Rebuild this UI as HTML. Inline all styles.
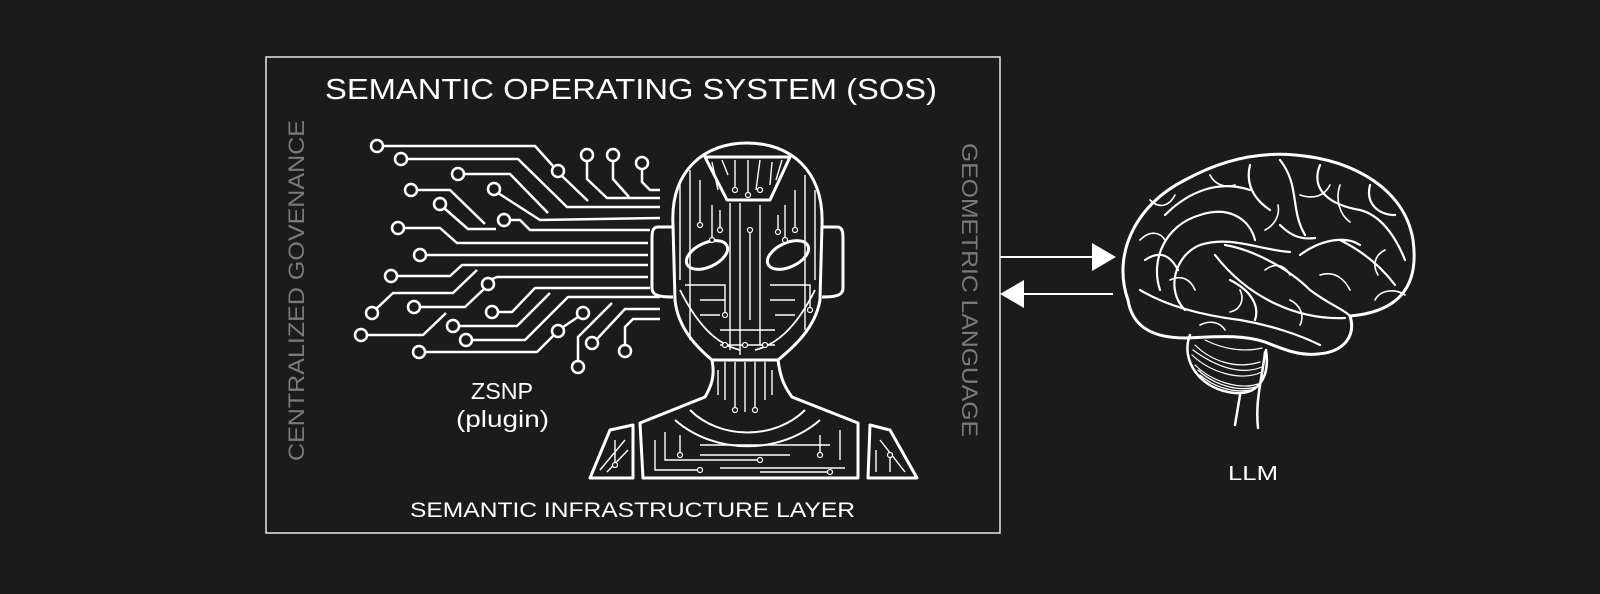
<!DOCTYPE html>
<html><head><meta charset="utf-8">
<style>
html,body{margin:0;padding:0;background:#1b1b1b;}
svg{display:block}
text{font-family:"Liberation Sans",sans-serif;}
</style></head>
<body>
<svg width="1600" height="594" viewBox="0 0 1600 594" xmlns="http://www.w3.org/2000/svg">
<rect width="1600" height="594" fill="#1b1b1b"/>
<rect x="266" y="57" width="734" height="476" fill="none" stroke="#e8e8e8" stroke-width="1.5"/>
<text x="325" y="99" font-size="29" fill="#fff" textLength="612" lengthAdjust="spacingAndGlyphs">SEMANTIC OPERATING SYSTEM  (SOS)</text>
<text x="410" y="517" font-size="21" fill="#fff" textLength="445" lengthAdjust="spacingAndGlyphs">SEMANTIC INFRASTRUCTURE LAYER</text>
<text x="471" y="399" font-size="23" fill="#fff" textLength="62" lengthAdjust="spacingAndGlyphs">ZSNP</text>
<text x="456" y="427" font-size="23" fill="#fff" textLength="93" lengthAdjust="spacingAndGlyphs">(plugin)</text>
<text transform="translate(304,461) rotate(-90)" font-size="22" fill="#7a7a7a" textLength="341" lengthAdjust="spacingAndGlyphs">CENTRALIZED GOVENANCE</text>
<text transform="translate(962,143) rotate(90)" font-size="22" fill="#7a7a7a" textLength="294" lengthAdjust="spacingAndGlyphs">GEOMETRIC LANGUAGE</text>
<text x="1228" y="480" font-size="20" fill="#fff" textLength="50" lengthAdjust="spacingAndGlyphs">LLM</text>

<line x1="1000" y1="257" x2="1094" y2="257" stroke="#fff" stroke-width="2"/>
<polygon points="1092,243 1116,257 1092,271" fill="#fff"/>
<line x1="1113" y1="294" x2="1020" y2="294" stroke="#fff" stroke-width="2"/>
<polygon points="1024,280 1000,294 1024,308" fill="#fff"/>

<g fill="none" stroke="#fff" stroke-width="2.5" stroke-linejoin="round">
<polyline points="383,146 535,146 553,166"/><polyline points="562,176 588,201"/>
<polyline points="407,159 518,159 567,207 660,207"/>
<polyline points="464,174 510,174 548,213"/>
<polyline points="417,190 450,190 485,224"/>
<polyline points="444,208 468,229 496,229"/>
<polyline points="498,193 540,220 660,218"/>
<polyline points="510,220 520,220 530,230 650,230"/>
<polyline points="404,228 440,228 457,243 648,243"/>
<polyline points="426,255 648,255"/>
<polyline points="397,276 450,276 462,265 648,265"/>
<polyline points="376,309 393,293 453,293 477,270"/>
<polyline points="492,279 497,277 648,277"/>
<polyline points="420,307 465,307 484,289"/>
<polyline points="498,312 512,312 535,288 650,288"/>
<polyline points="367,335 423,335 446,313"/>
<polyline points="459,326 517,326 550,293"/>
<polyline points="472,340 525,340 568,297 660,297"/>
<polyline points="425,352 537,352 554,335"/><polyline points="563,327 578,317"/>
<polyline points="578,361 578,337 612,303"/>
<polyline points="597,339 625,309 660,309"/>
<polyline points="625,345 625,327 633,319 660,319"/>
<polyline points="587,161 587,179 607,198 660,198"/>
<polyline points="613,161 613,179 629,197"/>
<polyline points="642,169 642,182 650,190 660,190"/>
<g fill="#1b1b1b">
<circle cx="377" cy="146" r="6"/><circle cx="401" cy="159" r="6"/><circle cx="558" cy="171" r="6"/>
<circle cx="458" cy="174" r="6"/><circle cx="411" cy="190" r="6"/><circle cx="440" cy="204" r="6"/>
<circle cx="494" cy="189" r="6"/><circle cx="504" cy="220" r="6"/><circle cx="398" cy="228" r="6"/>
<circle cx="420" cy="255" r="6"/><circle cx="391" cy="276" r="6"/><circle cx="372" cy="313" r="6"/>
<circle cx="488" cy="284" r="6"/><circle cx="414" cy="307" r="6"/><circle cx="492" cy="312" r="6"/>
<circle cx="361" cy="335" r="6"/><circle cx="453" cy="326" r="6"/><circle cx="466" cy="340" r="6"/>
<circle cx="419" cy="352" r="6"/><circle cx="558" cy="331" r="6"/><circle cx="583" cy="313" r="6"/>
<circle cx="578" cy="367" r="6"/><circle cx="592" cy="343" r="6"/><circle cx="625" cy="351" r="6"/>
<circle cx="587" cy="155" r="6"/><circle cx="613" cy="155" r="6"/><circle cx="642" cy="163" r="6"/>
</g>
</g>

<!-- robot -->
<g fill="none" stroke="#fff" stroke-width="3" stroke-linejoin="round">
<path d="M673,225 C670,170 705,143 747,143 C790,143 824,170 822,225 L820,300 C815,330 790,350 778,360 L712,360 C700,350 678,330 675,300 Z"/>
<path d="M673,227 L658,227 C652,227 652,233 652,240 L652,288 C652,295 658,297 673,297"/>
<path d="M822,227 L837,227 C843,227 843,233 843,240 L843,288 C843,295 837,297 822,297"/>
<polygon points="705,157 790,157 770,200 727,200"/>
<ellipse cx="707" cy="255" rx="22" ry="12" transform="rotate(-25 707 255)"/>
<ellipse cx="788" cy="255" rx="22" ry="12" transform="rotate(-25 788 255)"/>
<path d="M712,360 C715,375 712,385 705,397 L640,423 L643,478 L858,478 L858,423 L792,397 C783,385 780,375 778,360"/>
<polygon points="590,478 610,430 633,425 633,478"/>
<polygon points="870,425 890,430 917,478 868,478"/>
<path d="M690,410 C720,440 775,440 805,410" stroke-width="2"/>
<path d="M675,420 C715,455 780,455 820,420" stroke-width="2"/>
<path d="M680,290 C700,330 720,345 740,350 M815,290 C795,330 775,345 755,350" stroke-width="1.8"/>
</g>
<g fill="none" stroke="#fff" stroke-width="1.4">
<path d="M740,355 L740,203 M730,203 L730,350 M760,205 L760,345 M720,330 L775,330 M750,230 L750,320"/>
<path d="M690,170 L690,340 M700,180 L700,225 M685,285 L725,285 L725,315 M805,175 L805,330 M795,190 L795,230 M770,285 L810,285 L810,310"/>
<path d="M712,162 L718,190 M722,160 L728,175 M735,160 L735,190 M748,160 L748,195 M760,160 L756,190 M772,162 L770,185 M782,160 L776,180"/>
<path d="M680,185 L680,280 M815,190 L815,280 M712,205 L712,240 M785,205 L785,240 M720,210 L720,230 M778,215 L778,232"/>
<path d="M700,300 L725,300 M770,300 L795,300 M700,315 L720,315 M775,315 L795,315 M720,345 L775,345"/>
<path d="M725,362 L725,400 M735,362 L735,410 M745,362 L745,412 M755,362 L755,410 M765,362 L765,400 M718,370 L718,395 M772,370 L772,395"/>
<path d="M655,440 L655,470 L700,470 M665,432 L665,460 L760,460 M700,445 L830,445 M720,468 L845,468 M840,430 L840,460 M680,435 L680,455 M820,435 L820,455 M700,455 L790,455 M760,472 L830,472"/>
<path d="M600,470 L625,440 M607,472 L628,450 M615,440 L615,465 M880,440 L905,472 M876,450 L876,472 M890,455 L890,472"/>
</g>
<g fill="#1b1b1b" stroke="#fff" stroke-width="1.2">
<circle cx="700" cy="225" r="2.5"/><circle cx="712" cy="240" r="2.5"/><circle cx="720" cy="230" r="2.5"/>
<circle cx="785" cy="240" r="2.5"/><circle cx="795" cy="230" r="2.5"/><circle cx="778" cy="232" r="2.5"/>
<circle cx="725" cy="315" r="2.5"/><circle cx="810" cy="310" r="2.5"/><circle cx="750" cy="230" r="2.5"/>
<circle cx="735" cy="190" r="2.5"/><circle cx="748" cy="195" r="2.5"/><circle cx="760" cy="190" r="2.5"/>
<circle cx="725" cy="345" r="2.5"/><circle cx="745" cy="345" r="2.5"/><circle cx="765" cy="345" r="2.5"/>
<circle cx="735" cy="410" r="2.5"/><circle cx="755" cy="410" r="2.5"/><circle cx="700" cy="470" r="2.5"/>
<circle cx="680" cy="455" r="2.5"/><circle cx="820" cy="455" r="2.5"/><circle cx="760" cy="460" r="2.5"/>
<circle cx="615" cy="465" r="2.5"/><circle cx="890" cy="455" r="2.5"/><circle cx="830" cy="472" r="2.5"/>
</g>

<!-- brain -->
<g fill="none" stroke="#fff" stroke-linejoin="round" stroke-linecap="round">
<path stroke-width="3" d="M1128,300 C1112,255 1135,205 1185,180 C1225,158 1262,152 1295,155 C1355,160 1405,190 1413,240 C1420,290 1395,312 1350,316 C1356,335 1345,352 1318,354 C1300,356 1285,350 1265,342 C1240,334 1215,337 1185,338 C1150,338 1132,325 1128,300 Z"/>
<path stroke-width="2.5" d="M1190,335 C1180,360 1200,390 1235,393 C1260,395 1270,375 1266,350"/>
<path stroke-width="2.5" d="M1240,395 L1235,425 M1265,352 C1262,380 1255,400 1258,428"/>
<path stroke-width="1.2" d="M1195,345 C1210,360 1235,370 1260,362 M1192,355 C1210,372 1240,382 1262,372 M1195,365 C1212,382 1240,390 1258,384 M1200,375 C1215,388 1235,393 1250,390 M1205,340 C1225,350 1245,352 1262,348 M1193,350 C1215,366 1240,376 1262,367 M1198,370 C1214,385 1238,392 1255,387"/>
<g stroke-width="2.2">
<path d="M1160,290 C1150,260 1165,225 1200,215 C1230,205 1250,220 1255,240"/>
<path d="M1185,310 C1165,290 1175,255 1200,245 C1230,235 1260,250 1290,252"/>
<path d="M1215,255 C1250,300 1300,320 1345,318"/>
<path d="M1225,245 C1255,250 1290,270 1310,290 C1330,305 1345,310 1350,316"/>
<path d="M1140,290 C1165,305 1200,315 1240,320 C1270,325 1300,335 1320,345"/>
<path d="M1250,165 C1245,185 1255,200 1270,210 M1280,160 C1300,185 1290,210 1305,235 M1320,165 C1310,190 1330,205 1360,210 C1380,215 1395,235 1405,260"/>
<path d="M1165,215 C1190,190 1220,180 1250,190 M1340,240 C1360,250 1380,265 1395,285 M1300,255 C1320,240 1345,235 1360,245 M1230,280 C1250,290 1260,305 1255,320"/>
<path d="M1145,260 C1160,250 1170,255 1178,270 M1370,185 C1365,205 1380,215 1395,215 M1280,225 C1290,235 1300,240 1315,238"/>
</g>
<g stroke-width="1.6">
<path d="M1140,240 C1150,230 1160,232 1165,240 M1150,200 C1160,210 1170,205 1175,195 M1210,175 C1215,185 1225,188 1235,185"/>
<path d="M1265,270 C1275,262 1285,265 1290,275 M1320,275 C1335,270 1345,280 1350,290 M1375,300 C1380,290 1395,288 1405,295"/>
<path d="M1240,290 C1245,300 1240,310 1230,312 M1290,300 C1300,305 1305,315 1300,325 M1200,325 C1210,320 1220,322 1225,330"/>
<path d="M1340,185 C1335,200 1340,215 1350,222 M1385,250 C1375,255 1372,265 1378,275 M1170,280 C1180,275 1190,278 1195,290"/>
<path d="M1300,195 C1315,200 1325,195 1330,185 M1265,230 C1275,225 1280,215 1278,205"/>
</g>
</g>
</svg>
</body></html>
